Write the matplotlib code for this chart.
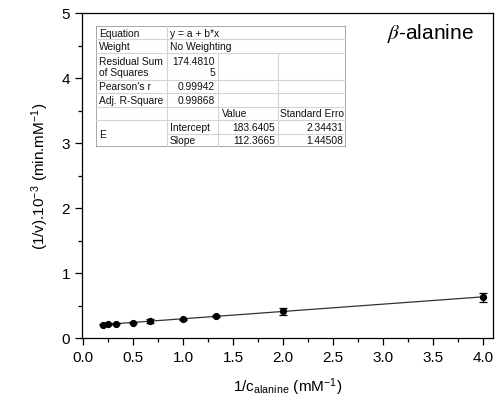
import matplotlib
matplotlib.use('Agg')
import matplotlib.pyplot as plt
import numpy as np

plt.rcParams['font.family'] = ['Liberation Sans', 'DejaVu Sans']
plt.rcParams['mathtext.fontset'] = 'stix'

# data (1/v scaled by 1e-3)
inv_c = [0.2, 0.25, 0.333, 0.5, 0.667, 1.0, 1.333, 2.0, 4.0]
inv_v = [0.205, 0.212, 0.222, 0.238, 0.255, 0.287, 0.332, 0.410, 0.628]
inv_v_err = [0.010, 0.012, 0.012, 0.012, 0.030, 0.012, 0.015, 0.052, 0.068]

# fit results shown in the table
intercept = 183.6405
slope = 112.3665
intercept_err = 2.34431
slope_err = 1.44508
rss = '174.4810\n5'
pearson_r = '0.99942'
adj_r2 = '0.99868'

x_ticks = [0.0, 0.5, 1.0, 1.5, 2.0, 2.5, 3.0, 3.5, 4.0]
y_ticks = [0, 1, 2, 3, 4, 5]

W, H = 499, 414
fig = plt.figure(figsize=(W / 100, H / 100), dpi=100)
ax = fig.add_axes([82 / W, 1 - 339 / H, 411 / W, 325 / H])

# fitted line
xf = np.array([inv_c[0], inv_c[-1]])
ax.plot(xf, (intercept + slope * xf) / 1000, color='#333333', lw=0.9, zorder=2)
ax.errorbar(inv_c, inv_v, yerr=inv_v_err, fmt='o', color='black', ms=4.2,
            capsize=3, elinewidth=0.9, capthick=0.9, zorder=3)

ax.set_xlim(-0.01, 4.1)
ax.set_ylim(0, 5)
ax.set_xticks(x_ticks)
ax.set_xticklabels(['%.1f' % v for v in x_ticks])
ax.set_yticks(y_ticks)
ax.set_xticks(np.arange(0.25, 4.0, 0.5), minor=True)
ax.set_yticks(np.arange(0.5, 5.0, 1.0), minor=True)
ax.tick_params(which='both', direction='out', top=False, right=False,
               labelsize=11, width=0.9)
ax.tick_params(which='major', length=5)
ax.tick_params(which='minor', length=3)
for s in ax.spines.values():
    s.set_linewidth(0.9)

ax.set_xlabel(r'1/c$_{\mathregular{alanine}}$ (mM$^{\mathregular{-1}}$)', fontsize=11, labelpad=8)
ax.set_ylabel(r'(1/v).10$^{\mathregular{-3}}$ (min.mM$^{\mathregular{-1}}$)', fontsize=11, labelpad=8)

ax.text(0.952, 0.975, r'$\it{\beta}$-alanine', transform=ax.transAxes,
        ha='right', va='top', fontsize=15)

# results table drawn in pixel coordinates
tx0, tx1, ty0, ty1 = 96, 346, 27, 148
tab = fig.add_axes([tx0 / W, 1 - ty1 / H, (tx1 - tx0) / W, (ty1 - ty0) / H])
tab.set_xlim(tx0, tx1)
tab.set_ylim(ty1, ty0)
tab.axis('off')
tab.add_patch(plt.Rectangle((tx0, ty0), tx1 - tx0, ty1 - ty0, fc='white',
                            ec='#909090', lw=1.1, zorder=1))
cols = [tx0, 167, 218, 278, tx1]
rh = (ty1 - ty0) / 9.0
rows = [ty0 + rh * k for k in [0, 1, 2, 4, 5, 6, 7, 8, 9]]
lc = '#d4d4d4'
for i, y in enumerate(rows[1:-1], start=1):
    xs = cols[1] if i == 7 else tx0
    tab.plot([xs, tx1], [y, y], color=lc, lw=0.8, zorder=2)
tab.plot([cols[1], cols[1]], [ty0, ty1], color=lc, lw=0.8, zorder=2)
for c in cols[2:4]:
    tab.plot([c, c], [rows[2], ty1], color=lc, lw=0.8, zorder=2)

fs = 7.4
def cell(x, y, s, ha='left'):
    tab.text(x, y, s, ha=ha, va='center', fontsize=fs, zorder=3, linespacing=1.2,
             color='#111111', clip_on=True)

mid = [(rows[k] + rows[k + 1]) / 2 for k in range(8)]
cell(tx0 + 3, mid[0], 'Equation')
cell(cols[1] + 3, mid[0], 'y = a + b*x')
cell(tx0 + 3, mid[1], 'Weight')
cell(cols[1] + 3, mid[1], 'No Weighting')
cell(tx0 + 3, mid[2], 'Residual Sum\nof Squares')
cell(cols[2] - 3, mid[2], rss, ha='right')
cell(tx0 + 3, mid[3], "Pearson's r")
cell(cols[2] - 3, mid[3], pearson_r, ha='right')
cell(tx0 + 3, mid[4], 'Adj. R-Square')
cell(cols[2] - 3, mid[4], adj_r2, ha='right')
cell(cols[2] + 4, mid[5], 'Value')
cell(cols[3] + 2, mid[5], 'Standard Erro')
cell(tx0 + 3, rows[7], 'E')
cell(cols[1] + 3, mid[6], 'Intercept')
cell(cols[1] + 3, mid[7], 'Slope')
cell(cols[3] - 3, mid[6], '%.4f' % intercept, ha='right')
cell(cols[3] - 3, mid[7], '%.4f' % slope, ha='right')
cell(tx1 - 3, mid[6], '%.5f' % intercept_err, ha='right')
cell(tx1 - 3, mid[7], '%.5f' % slope_err, ha='right')

fig.savefig('out.png', dpi=100)
